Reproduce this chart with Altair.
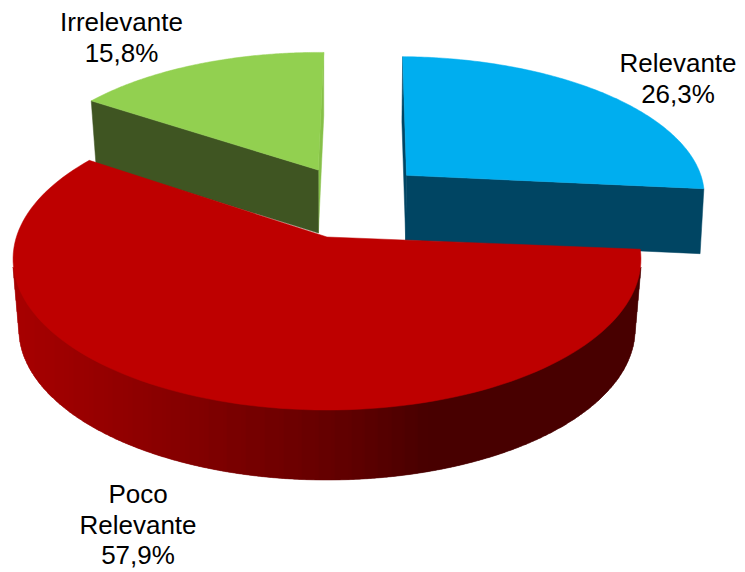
import math
import altair as alt
import pandas as pd

# values
categories = ["Relevante", "Poco Relevante", "Irrelevante"]
shares = [26.3, 57.9, 15.8]

# styles and layout (not data)
top_colors = ["#00AEEF", "#BE0000", "#92D050"]
front_colors = ["#004563", None, "#3F5522"]
sliver_colors = ["#004563", None, "#86C048"]
offsets = [(0.27, -0.44), (0.0, 0.0), (-0.03, -0.48)]
perspective = [0.125, 0.1457, 0.125]
depths = [65, 70, 63]
shrink = [0.99, 0.98, 0.98]
edge_shift = [0.0, -1.0, 0.0]
label_x = [678, 138, 121.5]
label_y = [64, 495, 23]

CX, CY, A, B = 327.0, 237.0, 310.6, 147.8
START = 1.0


def project(u, v, k):
    w = 1 - k * v
    return CX + A * u / w, CY + B * v / w


def rim(phi, off, k):
    r = math.radians(phi)
    return project(math.sin(r) + off[0], -math.cos(r) + off[1], k)


def drop(p, h, s):
    return CX + (p[0] - CX) * s, p[1] + h


def side_color(x):
    stops = [(13, 0xA8), (150, 0x8C), (300, 0x6C), (350, 0x60), (430, 0x48), (700, 0x48)]
    for (x0, c0), (x1, c1) in zip(stops, stops[1:]):
        if x <= x1:
            t = max(0.0, (x - x0) / (x1 - x0))
            return "#%02X0000" % round(c0 + t * (c1 - c0))
    return "#480000"


rows = []
pid = 0


def add(points, color):
    global pid
    pid += 1
    for i, (x, y) in enumerate(points):
        rows.append({"poly": f"p{pid:04d}", "i": i, "x": x, "y": y, "c": color})


angles = [START]
for s in shares:
    angles.append(angles[-1] + s / sum(shares) * 360)

# back to front: green, blue, red
for idx in [2, 0, 1]:
    a0, a1 = angles[idx] + edge_shift[idx], angles[idx + 1]
    off, k, h, sh = offsets[idx], perspective[idx], depths[idx], shrink[idx]
    apex = project(off[0], off[1], k)
    n = 120
    arc = [rim(a0 + (a1 - a0) * j / n, off, k) for j in range(n + 1)]
    if idx == 1:
        # curved wall as vertical columns, shaded left to right
        lower = {}
        for j in range(1601):
            t = rim(a0 + (a1 - a0) * j / 1600, off, k)
            d = drop(t, h, sh)
            for q in range(61):
                f = q / 60
                px = t[0] + (d[0] - t[0]) * f
                py = t[1] + (d[1] - t[1]) * f
                col = round(px)
                if py > lower.get(col, -1e9):
                    lower[col] = py
        cols = sorted(lower)
        for c0, c1 in zip(cols, cols[1:]):
            add([(c0, 268), (c1, 268), (c1, lower[c1]), (c0, lower[c0])], side_color((c0 + c1) / 2))
    elif idx == 0:
        add([apex, arc[0], drop(arc[0], h, sh), drop(apex, h, sh)], sliver_colors[idx])
        add([apex, arc[-1], drop(arc[-1], h, sh), drop(apex, h, sh)], front_colors[idx])
    else:
        add([apex, arc[-1], drop(arc[-1], h, sh), drop(apex, h, sh)], sliver_colors[idx])
        add([apex, arc[0], drop(arc[0], h, sh), drop(apex, h, sh)], front_colors[idx])
    add([apex] + arc, top_colors[idx])

df = pd.DataFrame(rows)

W, H = 729, 563
xs = alt.Scale(domain=[8, 8 + W])
ys = alt.Scale(domain=[8, 8 + H], reverse=True)

shapes = (
    alt.Chart(df)
    .mark_line(filled=True, interpolate="linear-closed", strokeWidth=0.5)
    .encode(
        x=alt.X("x:Q", scale=xs, axis=None),
        y=alt.Y("y:Q", scale=ys, axis=None),
        detail="poly:N",
        order="i:Q",
        fill=alt.Fill("c:N", scale=None),
        stroke=alt.Stroke("c:N", scale=None),
    )
)

labels_df = pd.DataFrame({
    "t": [c.replace(" ", "\n") + "\n" + f"{s:.1f}%".replace(".", ",") for c, s in zip(categories, shares)],
    "x": label_x,
    "y": label_y,
})
labels = (
    alt.Chart(labels_df)
    .mark_text(font="Liberation Sans", fontSize=26, lineBreak="\n", lineHeight=30.5,
               baseline="middle", align="center", color="#000000")
    .encode(x=alt.X("x:Q", scale=xs, axis=None), y=alt.Y("y:Q", scale=ys, axis=None), text="t:N")
)

chart = (
    alt.layer(shapes, labels)
    .properties(width=W, height=H, padding=0, autosize=alt.AutoSizeParams(type="none"))
    .configure_view(stroke=None)
)
chart.save("out.html", embed_options={"renderer": "svg", "actions": False})
